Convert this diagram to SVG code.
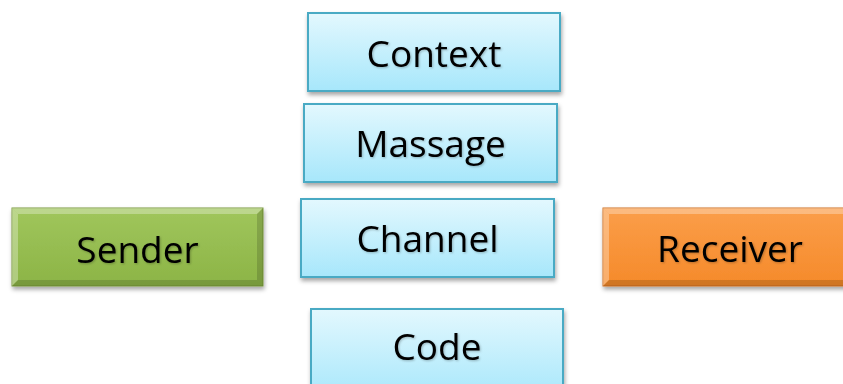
<svg xmlns="http://www.w3.org/2000/svg" width="843" height="384" viewBox="0 0 843 384">
<defs>
<linearGradient id="blue" x1="0" y1="0" x2="0" y2="1">
<stop offset="0" stop-color="#e3f8fe"/>
<stop offset="1" stop-color="#a7e7fb"/>
</linearGradient>
<linearGradient id="green" x1="0" y1="0" x2="0" y2="1">
<stop offset="0" stop-color="#a0c65c"/>
<stop offset="1" stop-color="#8cb446"/>
</linearGradient>
<linearGradient id="orange" x1="0" y1="0" x2="0" y2="1">
<stop offset="0" stop-color="#fb9e4a"/>
<stop offset="1" stop-color="#f58a2a"/>
</linearGradient>
<filter id="sh" x="-10%" y="-20%" width="120%" height="150%">
<feDropShadow dx="1" dy="3" stdDeviation="2" flood-color="#000" flood-opacity="0.35"/>
</filter>
<filter id="tsh" x="-10%" y="-20%" width="120%" height="150%">
<feDropShadow dx="1" dy="1" stdDeviation="1" flood-color="#000" flood-opacity="0.25"/>
</filter>
</defs>
<style>
.b{fill:url(#blue);stroke:#4aaac4;stroke-width:2;filter:url(#sh)}
.t{font-family:"Open Sans","Noto Sans",sans-serif;font-size:37px;fill:#000;text-anchor:middle;filter:url(#tsh)}
.hl{fill:#fff;opacity:0.3}
.dk{fill:#000;opacity:0.15}
</style>
<rect width="843" height="384" fill="#fff"/>
<g id="connectors"/>
<g id="context">
<rect class="b" x="308" y="13" width="252" height="78"/>
<text class="t" x="434" y="67">Context</text>
</g>
<g id="massage">
<rect class="b" x="304" y="104" width="253" height="78"/>
<text class="t" x="430.5" y="157">Massage</text>
</g>
<g id="channel">
<rect class="b" x="301" y="199" width="253" height="78"/>
<text class="t" x="427.5" y="252">Channel</text>
</g>
<g id="code">
<rect class="b" x="311" y="309" width="252" height="90"/>
<text class="t" x="437" y="360">Code</text>
</g>
<g id="sender">
<rect x="12" y="208" width="251" height="78" fill="url(#green)" stroke="#7a9a3c" stroke-width="1" filter="url(#sh)"/>
<polygon class="hl" points="12,208 263,208 257,214 18,214"/>
<polygon class="hl" points="12,208 18,214 18,280 12,286"/>
<polygon class="dk" points="263,208 263,286 257,280 257,214"/>
<polygon class="dk" points="12,286 18,280 257,280 263,286"/>
<text class="t" x="137.5" y="263">Sender</text>
</g>
<g id="receiver">
<rect x="603" y="208" width="254" height="78" fill="url(#orange)" stroke="#d07020" stroke-width="1" filter="url(#sh)"/>
<polygon class="hl" points="603,208 857,208 851,214 609,214"/>
<polygon class="hl" points="603,208 609,214 609,280 603,286"/>
<polygon class="dk" points="603,286 609,280 851,280 857,286"/>
<text class="t" x="730" y="262">Receiver</text>
</g>
</svg>
